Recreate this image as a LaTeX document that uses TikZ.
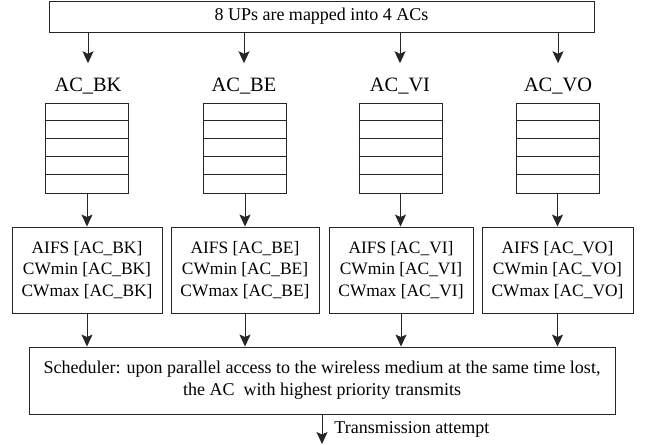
\documentclass[tikz,border=0pt]{standalone}
\usepackage{fontspec}
\setmainfont{Liberation Serif}
\usepackage{tikz}
\usetikzlibrary{arrows.meta}
\newcommand{\bigtxt}{\fontsize{18}{22}\selectfont}
\newcommand{\midtxt}{\fontsize{17.4}{21.6}\selectfont}
\newcommand{\labtxt}{\fontsize{20.4}{24}\selectfont}
\tikzset{
    box/.style={draw=black!85, line width=0.9pt, inner sep=0pt, align=center},
    aclabel/.style={font=\labtxt, inner sep=0pt, text height=13.5pt, text depth=0pt, outer ysep=15pt},
    queue/.style={box, minimum width=83pt, minimum height=90pt},
    params/.style={box, font=\midtxt, minimum height=86pt},
    flow/.style={draw=black!85, line width=0.9pt, -{Stealth[length=12pt,width=11pt,inset=2.5pt]}}
}

\begin{document}
\begin{tikzpicture} [x=1pt,y=-1pt]
        \useasboundingbox (0,0) rectangle (647,444);
        % mapping of the user priorities
        \node[box, font=\bigtxt, minimum width=545pt, minimum height=31pt] (top) at (321.5,16.5) {8 UPs are mapped into 4 ACs};

        \node[aclabel] (lBK) at (88,85) {AC\_BK}; \node[aclabel] (lBE) at (244,85) {AC\_BE}; \node[aclabel] (lVI) at (400,85) {AC\_VI}; \node[aclabel] (lVO) at (558,85) {AC\_VO};

        \node[queue] (qBK) at (87,148) {}; \node[queue] (qBE) at (245,148) {}; \node[queue] (qVI) at (400.5,148) {}; \node[queue] (qVO) at (557.5,148) {};
        \foreach \q in {qBK,qBE,qVI,qVO} {
            \foreach \i in {1,...,4} \draw[black!85, line width=0.9pt] ([yshift=-\i*18pt]\q.north west) -- ([yshift=-\i*18pt]\q.north east);
        }

        \node[params, minimum width=150pt] (pBK) at (87,270) {AIFS [AC\_BK]\\CWmin [AC\_BK]\\CWmax [AC\_BK]};
        \node[params, minimum width=148pt] (pBE) at (245,270) {AIFS [AC\_BE]\\CWmin [AC\_BE]\\CWmax [AC\_BE]};
        \node[params, minimum width=144pt] (pVI) at (401,270) {AIFS [AC\_VI]\\CWmin [AC\_VI]\\CWmax [AC\_VI]};
        \node[params, minimum width=151pt] (pVO) at (557.5,270) {AIFS [AC\_VO]\\CWmin [AC\_VO]\\CWmax [AC\_VO]};

        \node[box, font=\bigtxt, minimum width=586pt, minimum height=67pt] (sched) at (322,380.5) {Scheduler: upon parallel access to the wireless medium at the same time lost,\\the AC\ \ with highest priority transmits};
        \coordinate (out) at (322,444);

        % connectors
        \draw[flow] (top.south -| lBK) -- (lBK.north); \draw[flow] (top.south -| lBE) -- (lBE.north); \draw[flow] (top.south -| lVI) -- (lVI.north); \draw[flow] (top.south -| lVO) -- (lVO.north);
        \draw[flow] (qBK.south) -- (qBK.south |- pBK.north); \draw[flow] (qBE.south) -- (qBE.south |- pBE.north); \draw[flow] (qVI.south) -- (qVI.south |- pVI.north); \draw[flow] (qVO.south) -- (qVO.south |- pVO.north);
        \draw[flow] (pBK.south) -- (pBK.south |- sched.north); \draw[flow] (pBE.south) -- (pBE.south |- sched.north); \draw[flow] (pVI.south) -- (pVI.south |- sched.north); \draw[flow] (pVO.south) -- (pVO.south |- sched.north);
        \draw[flow] (sched.south) -- (out) node[pos=0.5, right=12pt, font=\bigtxt, inner sep=0pt] (tx) {Transmission attempt};
    \end{tikzpicture}
\end{document}
